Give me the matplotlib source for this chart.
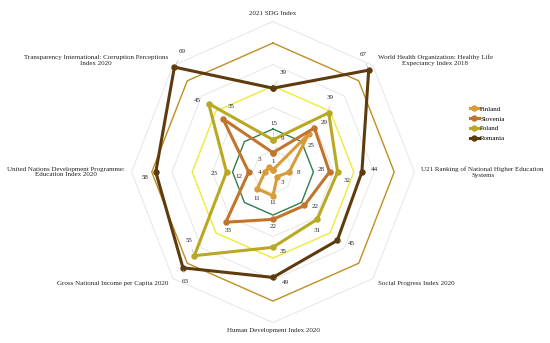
"""
Radar chart: Finland, Slovenia, Poland, Romania across eight international rankings
"""

import numpy as np
import matplotlib
matplotlib.use("Agg")
import matplotlib.pyplot as plt

plt.rcParams.update({
    "font.family": ["Liberation Serif", "DejaVu Serif"],
    "font.size": 5,
})

# axis order clockwise from the top
categories = [
    "2021 SDG Index",
    "World Health Organization: Healthy Life\nExpectancy Index 2018",
    "U21 Ranking of National Higher Education\nSystems",
    "Social Progress Index 2020",
    "Human Development Index 2020",
    "Gross National Income per Capita 2020",
    "United Nations Development Programme:\nEducation Index 2020",
    "Transparency International: Corruption Perceptions\nIndex 2020",
]

finland = [1, 25, 8, 3, 11, 11, 4, 3]
slovenia = [9, 29, 28, 22, 22, 33, 12, 35]
poland = [15, 39, 32, 31, 35, 55, 23, 45]
romania = [39, 67, 44, 45, 49, 63, 58, 69]

series_names = ["Finland", "Slovenia", "Poland", "Romania"]
series_values = [finland, slovenia, poland, romania]
series_colors = ["#D99A3A", "#C2742C", "#B9A823", "#5E3B0E"]

# reference rings (rank bands) and faint grid
band_levels = [20, 40, 60]
band_colors = ["#2F7E4C", "#EDEA3A", "#BF8E22"]
grid_levels = [10, 30, 50, 70]

# label offsets (points) per series, per axis
label_offsets = {
    "Finland": [(0, 6), (2, -8), (7, 0), (4, -4), (0, -5), (0, -7), (-4, 0), (-7, 6)],
    "Slovenia": [(7, 10), (7, 4), (-6, 2), (8, -1), (0, -5), (2, -6), (-7, -3), (6, 9)],
    "Poland": [(1, 12), (1, 11), (7, -6), (0, -8), (7, -3), (-4, 11), (-9, -1), (-8, 2)],
    "Romania": [(7, 11), (-4, 11), (9, 2), (10, -2), (9, -4), (2, -10), (-8, -4), (6, 11)],
}

n = len(categories)
theta = np.arange(n) * 2 * np.pi / n


def to_xy(values):
    v = np.asarray(values, dtype=float)
    return v * np.sin(theta), v * np.cos(theta)


def closed(a):
    return np.append(a, a[0])


fig = plt.figure(figsize=(5.5, 3.43), dpi=100)
ax = fig.add_axes([0, 0, 1, 1])
ax.set_xlim(-135.1, 137.1)
ax.set_ylim(-79.5, 80.0)
ax.axis("off")

for lvl in grid_levels:
    gx, gy = to_xy([lvl] * n)
    ax.plot(closed(gx), closed(gy), color="#E6E6E6", lw=0.7, zorder=1)

for lvl, col in zip(band_levels, band_colors):
    gx, gy = to_xy([lvl] * n)
    ax.plot(closed(gx), closed(gy), color=col, lw=1.0, zorder=2)

for name, vals, col in zip(series_names, series_values, series_colors):
    x, y = to_xy(vals)
    ax.plot(closed(x), closed(y), color=col, lw=2.2, marker="o", ms=3.6,
            label=name, zorder=3)
    for i, v in enumerate(vals):
        dx, dy = label_offsets[name][i]
        far = (dx * dx + dy * dy) > 90
        ax.annotate(str(v), (x[i], y[i]), xytext=(dx, dy),
                    textcoords="offset points", ha="center", va="center",
                    fontsize=5, color="#222222", zorder=5,
                    arrowprops=dict(arrowstyle="-", color="#B0B0B0", lw=0.4,
                                    shrinkA=2.5, shrinkB=1.5) if far else None)

# category labels just outside the 70 ring
r_lab = 73.5
for i, cat in enumerate(categories):
    s, c = np.sin(theta[i]), np.cos(theta[i])
    ha = "left" if s > 0.1 else ("right" if s < -0.1 else "center")
    ax.text(r_lab * s, r_lab * c, cat, ha=ha, va="center",
            multialignment="center", fontsize=5, color="#222222")

ax.legend(loc="upper left", bbox_to_anchor=(0.845, 0.705), frameon=False,
          fontsize=5, handlelength=1.4, handletextpad=0.1, labelspacing=0.55,
          borderpad=0.2)

fig.savefig("out.png", dpi=100, facecolor="white")
plt.close(fig)
